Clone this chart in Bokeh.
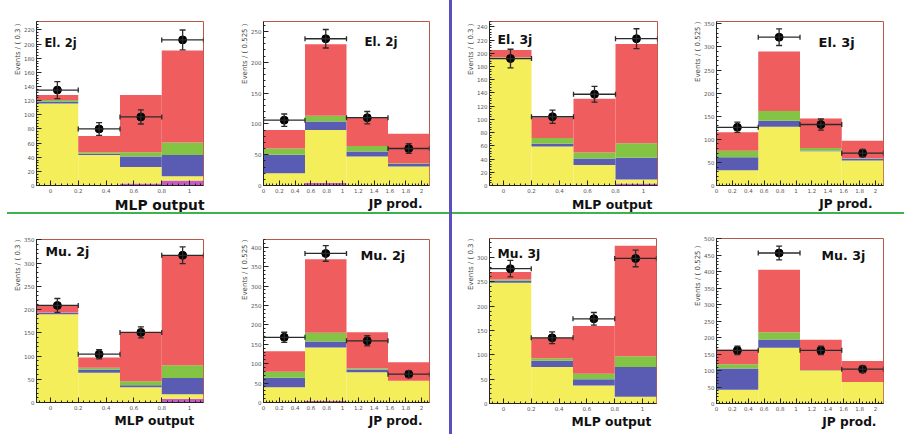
import numpy as np
from bokeh.plotting import figure
from bokeh.models import (Range1d, SingleIntervalTicker, CustomJSTickFormatter, Label,
                          Whisker, ColumnDataSource, TeeHead, Div, Title)
from bokeh.layouts import row, column
from bokeh.embed import file_html
from bokeh.resources import INLINE

# ---------------- data ----------------
mlp_edges = [-0.1, 0.2, 0.5, 0.8, 1.1]
jp_edges = [0.0, 0.525, 1.05, 1.575, 2.1]
mlp_title = "MLP output"
jp_title = "JP prod."

# stacked components per bin (bottom -> top): magenta, yellow, blue, green, red
el2j_mlp_magenta = [0, 0, 3, 7]
el2j_mlp_yellow = [116, 43, 23, 6]
el2j_mlp_blue = [3, 2, 15, 30]
el2j_mlp_green = [2, 2, 6, 18]
el2j_mlp_red = [7, 23, 81, 130]
el2j_mlp_data = [135, 80, 97, 206]
el2j_mlp_err = [12, 9, 10, 14]

el2j_jp_magenta = [0, 4, 0, 0]
el2j_jp_yellow = [20, 86, 47, 31]
el2j_jp_blue = [30, 14, 8, 4]
el2j_jp_green = [10, 9, 9, 1]
el2j_jp_red = [30, 116, 47, 48]
el2j_jp_data = [106, 238, 110, 60]
el2j_jp_err = [10, 15, 10, 8]

el3j_mlp_magenta = [0, 0, 0, 3]
el3j_mlp_yellow = [192, 59, 31, 6]
el3j_mlp_blue = [1, 4, 10, 33]
el3j_mlp_green = [1, 9, 9, 22]
el3j_mlp_red = [11, 31, 81, 150]
el3j_mlp_data = [192, 104, 138, 222]
el3j_mlp_err = [14, 10, 12, 15]

el3j_jp_magenta = [0, 0, 0, 0]
el3j_jp_yellow = [33, 127, 74, 54]
el3j_jp_blue = [28, 13, 2, 4]
el3j_jp_green = [14, 21, 5, 1]
el3j_jp_red = [40, 129, 64, 38]
el3j_jp_data = [126, 321, 132, 70]
el3j_jp_err = [11, 18, 12, 8]

mu2j_mlp_magenta = [0, 0, 0, 8]
mu2j_mlp_yellow = [190, 64, 33, 10]
mu2j_mlp_blue = [3, 7, 4, 35]
mu2j_mlp_green = [1, 4, 9, 27]
mu2j_mlp_red = [16, 22, 106, 237]
mu2j_mlp_data = [209, 104, 151, 317]
mu2j_mlp_err = [15, 10, 12, 18]

mu2j_jp_magenta = [0, 4, 0, 0]
mu2j_jp_yellow = [39, 138, 78, 56]
mu2j_jp_blue = [25, 15, 7, 0]
mu2j_jp_green = [15, 23, 3, 0]
mu2j_jp_red = [53, 189, 93, 48]
mu2j_jp_data = [168, 384, 159, 73]
mu2j_jp_err = [13, 20, 13, 9]

mu3j_mlp_magenta = [0, 0, 0, 0]
mu3j_mlp_yellow = [248, 75, 37, 14]
mu3j_mlp_blue = [4, 13, 13, 61]
mu3j_mlp_green = [3, 5, 11, 22]
mu3j_mlp_red = [15, 42, 98, 227]
mu3j_mlp_data = [277, 135, 174, 298]
mu3j_mlp_err = [17, 12, 13, 17]

mu3j_jp_magenta = [0, 0, 0, 0]
mu3j_jp_yellow = [42, 169, 99, 65]
mu3j_jp_blue = [64, 25, 0, 0]
mu3j_jp_green = [13, 22, 2, 0]
mu3j_jp_red = [44, 189, 92, 64]
mu3j_jp_data = [161, 456, 161, 104]
mu3j_jp_err = [13, 21, 13, 10]

legend_texts = ["El. 2j", "El. 2j", "El. 3j", "El. 3j", "Mu. 2j", "Mu. 2j", "Mu. 3j", "Mu. 3j"]
ytitle_mlp = "Events / ( 0.3 )"
ytitle_jp = "Events / ( 0.525 )"
y_max = [232, 266, 248, 355, 351, 420, 339, 500]
y_step = [20, 50, 20, 50, 50, 50, 50, 50]

panels_data = [
    ("mlp", [el2j_mlp_magenta, el2j_mlp_yellow, el2j_mlp_blue, el2j_mlp_green, el2j_mlp_red], el2j_mlp_data, el2j_mlp_err),
    ("jp", [el2j_jp_magenta, el2j_jp_yellow, el2j_jp_blue, el2j_jp_green, el2j_jp_red], el2j_jp_data, el2j_jp_err),
    ("mlp", [el3j_mlp_magenta, el3j_mlp_yellow, el3j_mlp_blue, el3j_mlp_green, el3j_mlp_red], el3j_mlp_data, el3j_mlp_err),
    ("jp", [el3j_jp_magenta, el3j_jp_yellow, el3j_jp_blue, el3j_jp_green, el3j_jp_red], el3j_jp_data, el3j_jp_err),
    ("mlp", [mu2j_mlp_magenta, mu2j_mlp_yellow, mu2j_mlp_blue, mu2j_mlp_green, mu2j_mlp_red], mu2j_mlp_data, mu2j_mlp_err),
    ("jp", [mu2j_jp_magenta, mu2j_jp_yellow, mu2j_jp_blue, mu2j_jp_green, mu2j_jp_red], mu2j_jp_data, mu2j_jp_err),
    ("mlp", [mu3j_mlp_magenta, mu3j_mlp_yellow, mu3j_mlp_blue, mu3j_mlp_green, mu3j_mlp_red], mu3j_mlp_data, mu3j_mlp_err),
    ("jp", [mu3j_jp_magenta, mu3j_jp_yellow, mu3j_jp_blue, mu3j_jp_green, mu3j_jp_red], mu3j_jp_data, mu3j_jp_err),
]

# ---------------- styles / layout ----------------
comp_colors = ["#c65ac6", "#f4ee5a", "#5a5cb4", "#84c444", "#ef5d5f"]
FONT = "DejaVu Sans"
frame_col = "#b8584c"

# figure size and borders: (width, height, left, right, top, bottom)
geom = [
    (226, 212, 36, 23, 20, 26),
    (223, 212, 37, 20, 21, 27),
    (226, 212, 37, 21, 20, 25),
    (226, 212, 38, 21, 21, 27),
    (226, 220, 36, 23, 24, 31),
    (223, 220, 37, 20, 25, 32),
    (226, 220, 37, 22, 24, 31),
    (226, 220, 38, 21, 24, 31),
]
# legend: (x from frame left, baseline above frame bottom, font px)
legend_pos = [(8, 143, 11.5), (101, 144, 11.8), (8, 146, 12.5), (102, 143, 13),
              (9, 151, 12.6), (97, 147, 12.9), (8, 150, 12.3), (105, 148, 12.6)]
# x title: (offset from frame right, font px)
xtitle_pos = [(-1, 13.8), (7, 12.1), (5, 12.4), (11, 12),
              (9, 12.3), (7, 12.1), (5, 12.3), (7, 12.2)]
# y title offset from frame top
ytitle_off = [2, 2, 2, 0, 0, 0, 0, 7]


def make_panel(i):
    kind, comps, data, err = panels_data[i]
    W, H, bl, br, bt, bb = geom[i]
    edges = mlp_edges if kind == "mlp" else jp_edges
    left = np.array(edges[:-1])
    right = np.array(edges[1:])
    centers = (left + right) / 2
    p = figure(width=W, height=H, x_range=Range1d(edges[0], edges[-1]),
               y_range=Range1d(0, y_max[i]), output_backend="svg", toolbar_location=None,
               min_border_left=bl, min_border_right=br, min_border_top=bt, min_border_bottom=bb,
               background_fill_color="white", border_fill_color="white",
               outline_line_color=frame_col, outline_line_width=1)
    p.xgrid.visible = False
    p.ygrid.visible = False

    bottom = np.zeros(4)
    for vals, col in zip(comps, comp_colors):
        top = bottom + np.array(vals, dtype=float)
        p.quad(left=left, right=right, bottom=bottom, top=top, fill_color=col,
               line_color=None)
        bottom = top

    # data points with error bars
    d = np.array(data, float)
    e = np.array(err, float)
    src = ColumnDataSource(dict(x=centers, y=d, lo=d - e, hi=d + e, xl=left, xr=right))
    ec = "#2a2a2a"
    p.add_layout(Whisker(source=src, base="x", lower="lo", upper="hi", dimension="height",
                         line_color=ec, line_width=1.3, level="overlay",
                         upper_head=TeeHead(size=6, line_color=ec, line_width=1.3),
                         lower_head=TeeHead(size=6, line_color=ec, line_width=1.3)))
    p.add_layout(Whisker(source=src, base="y", lower="xl", upper="xr", dimension="width",
                         line_color=ec, line_width=1.3, level="overlay",
                         upper_head=TeeHead(size=5, line_color=ec, line_width=1.3),
                         lower_head=TeeHead(size=5, line_color=ec, line_width=1.3)))
    p.scatter("x", "y", source=src, size=8, fill_color="black", line_color="black",
              level="overlay")

    # axes
    p.xaxis.ticker = SingleIntervalTicker(interval=0.2, num_minor_ticks=5)
    p.xaxis.formatter = CustomJSTickFormatter(code="return String(Math.round(tick*10)/10);")
    p.yaxis.ticker = SingleIntervalTicker(interval=y_step[i], num_minor_ticks=5)
    for ax in (p.xaxis[0], p.yaxis[0]):
        ax.major_tick_in = 5
        ax.major_tick_out = 0
        ax.minor_tick_in = 2
        ax.minor_tick_out = 0
        ax.axis_line_color = "#222222"
        ax.major_tick_line_color = "#222222"
        ax.minor_tick_line_color = "#222222"
        ax.major_label_text_font = FONT
        ax.major_label_text_font_size = "5.5px"
        ax.major_label_text_color = "#555555"
        ax.major_label_standoff = 2

    # legend text inside the frame
    lx, ly, lf = legend_pos[i]
    p.add_layout(Label(x=lx, y=ly, x_units="screen", y_units="screen", text=legend_texts[i],
                       text_font=FONT, text_font_style="bold", text_font_size=f"{lf}px",
                       text_color="#111111", text_baseline="alphabetic", text_align="left"))
    # x axis title (right aligned, below the axis)
    off, tf = xtitle_pos[i]
    p.add_layout(Title(text=mlp_title if kind == "mlp" else jp_title, align="right",
                       offset=off, standoff=-2, text_font=FONT, text_font_style="bold",
                       text_font_size=f"{tf}px", text_color="#111111"), "below")
    # y axis title (top aligned, left of the axis)
    p.add_layout(Title(text=ytitle_mlp if kind == "mlp" else ytitle_jp, align="right",
                       offset=ytitle_off[i], standoff=0, text_font=FONT,
                       text_font_size="7px", text_font_style="normal",
                       text_color="#444444"), "left")
    return p


figs = [make_panel(i) for i in range(8)]

green_l = Div(text="", width=442, height=2, margin=(0, 0, 0, 7), styles={"background-color": "#3cb44b"})
green_r = Div(text="", width=452, height=2, margin=0, styles={"background-color": "#3cb44b"})
purple = Div(text="", width=3, height=434, margin=0, styles={"background-color": "#5a4fbf"})

left_col = column(row(figs[0], figs[1], spacing=0), green_l, row(figs[4], figs[5], spacing=0), spacing=0)
right_col = column(row(figs[2], figs[3], spacing=0), green_r, row(figs[6], figs[7], spacing=0), spacing=0)
layout = row(left_col, purple, right_col, spacing=0)

open("out.html", "w").write(file_html(layout, INLINE))
